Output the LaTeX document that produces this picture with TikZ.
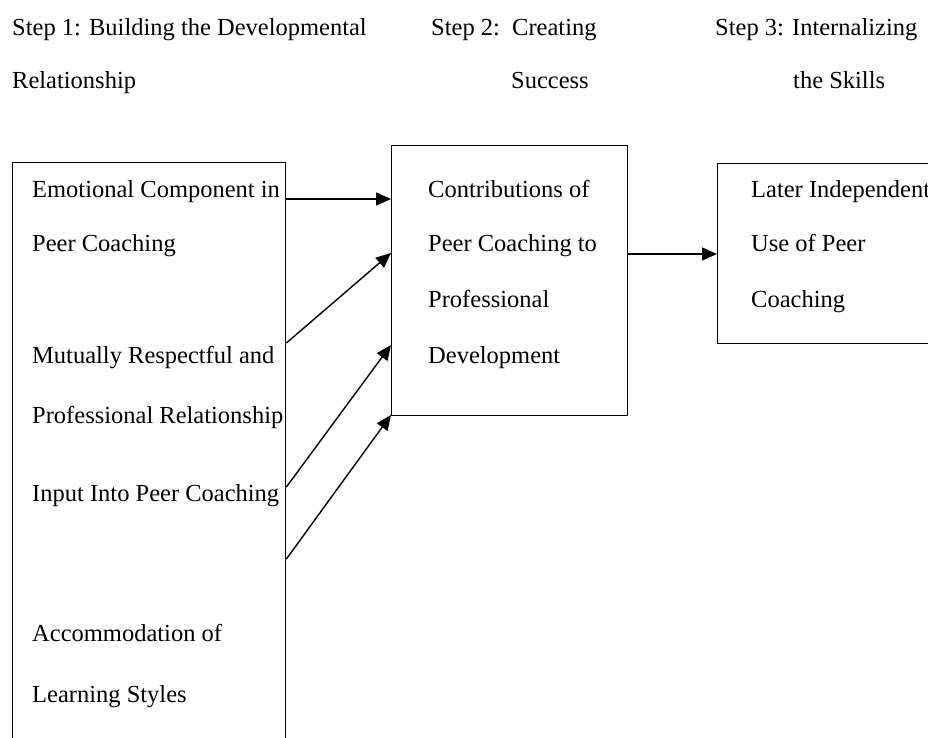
\documentclass[tikz,border=0pt]{standalone}
\usepackage{fontspec}
\setmainfont{Liberation Serif}
\usetikzlibrary{arrows.meta}
\begin{document}
\begin{tikzpicture}[x=1pt,y=1pt,
  box/.style={draw=black, line width=1.4pt, anchor=north west, inner sep=0pt, rectangle},
  txt/.style={anchor=base west, inner sep=0pt, font=\fontsize{24.5}{29}\selectfont},
  arr/.style={line width=1.4pt, -{Triangle[length=15pt,width=13pt]}}]
\clip (0,0) rectangle (928,-738);
\fill[white] (0,0) rectangle (928,-738);
% headers
\node[txt] (h1a) at (12,-36) {Step 1: Building the Developmental};
\node[txt] (h1b) at (12,-89) {Relationship};
\node[txt] (h2a) at (431,-36) {Step 2:\ \ Creating};
\node[txt] (h2b) at (511,-89) {Success};
\node[txt] (h3a) at (715,-36) {Step 3: Internalizing};
\node[txt] (h3b) at (793,-89) {the Skills};
% boxes
\node[box, minimum width=273pt, minimum height=620pt] (L) at (12,-162) {};
\node[box, minimum width=236pt, minimum height=270pt] (M) at (391,-145) {};
\node[box, minimum width=240pt, minimum height=180pt] (R) at (717,-163) {};
% left texts
\node[txt] (l1) at (32,-197) {Emotional Component in};
\node[txt] (l2) at (32,-251) {Peer Coaching};
\node[txt] (l3) at (32,-363) {Mutually Respectful and};
\node[txt] (l4) at (32,-423) {Professional Relationship};
\node[txt] (l5) at (32,-501) {Input Into Peer Coaching};
\node[txt] (l6) at (32,-641) {Accommodation of};
\node[txt] (l7) at (32,-702) {Learning Styles};
% middle texts
\node[txt] (m1) at (428,-197) {Contributions of};
\node[txt] (m2) at (428,-251) {Peer Coaching to};
\node[txt] (m3) at (428,-307) {Professional};
\node[txt] (m4) at (428,-363) {Development};
% right texts
\node[txt] (r1) at (751,-197) {Later Independent};
\node[txt] (r2) at (751,-251) {Use of Peer};
\node[txt] (r3) at (751,-307) {Coaching};
% connector levels
\coordinate (s1) at (0,-199);
\coordinate (s2) at (0,-343);
\coordinate (s3) at (0,-487);
\coordinate (s4) at (0,-559);
\coordinate (e2) at (0,-253);
\coordinate (e3) at (0,-345);
\coordinate (e4) at (0,-415);
\coordinate (s5) at (0,-254);
\draw[arr] (L.east |- s1) -- (M.west |- s1);
\draw[arr] (L.east |- s2) -- (M.west |- e2);
\draw[arr] (L.east |- s3) -- (M.west |- e3);
\draw[arr] (L.east |- s4) -- (M.west |- e4);
\draw[arr] (M.east |- s5) -- (R.west |- s5);
\end{tikzpicture}
\end{document}
